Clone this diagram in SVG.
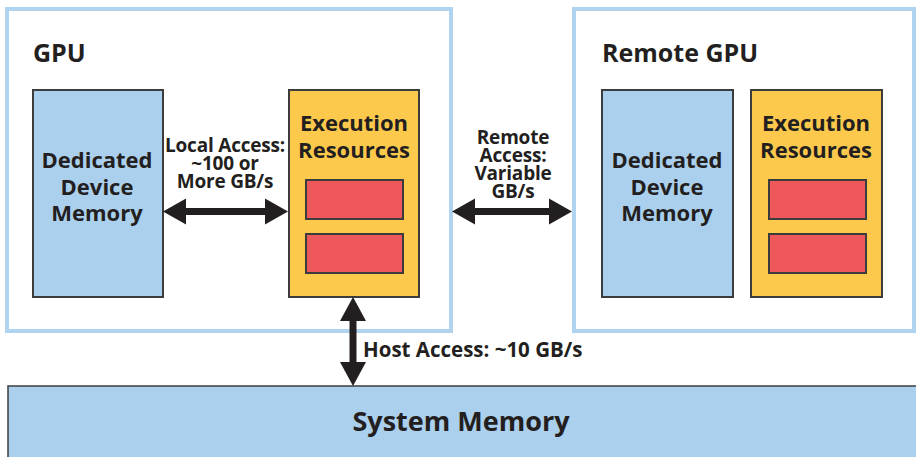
<svg xmlns="http://www.w3.org/2000/svg" width="916" height="457" viewBox="0 0 916 457">
  <defs>
    <style>
      .frame { fill: #ffffff; stroke: #b0d3f0; stroke-width: 4; }
      .mem { fill: #abd0ee; stroke: #3c3c3c; stroke-width: 2; }
      .exec { fill: #fdc94c; stroke: #3c3c3c; stroke-width: 2; }
      .unit { fill: #ef585b; stroke: #3c3c3c; stroke-width: 2; }
      .sys { fill: #abd0ee; stroke: #3c3c3c; stroke-width: 1.5; }
      text { font-family: "Open Sans", "Noto Sans", sans-serif; font-weight: bold; fill: #231f20; }
      .title { font-size: 25px; }
      .box { font-size: 22px; text-anchor: middle; }
      .lbl { font-size: 19px; text-anchor: middle; letter-spacing: -0.2px; }
      .host { font-size: 20.5px; }
      .big { font-size: 27px; text-anchor: middle; }
      .shaft { stroke: #231f20; stroke-width: 7; fill: none; }
      .head { fill: #231f20; }
    </style>
  </defs>

  <!-- Local GPU package -->
  <g id="gpu">
    <rect class="frame" x="7" y="9" width="444" height="322"/>
    <text class="title" x="33" y="62">GPU</text>
  </g>
  <g id="gpu-memory">
    <rect class="mem" x="33" y="90" width="130" height="207"/>
    <text class="box" x="97" y="168">Dedicated<tspan x="97" dy="27">Device</tspan><tspan x="97" dy="26">Memory</tspan></text>
  </g>
  <g id="gpu-exec">
    <rect class="exec" x="289" y="90" width="130" height="207"/>
    <text class="box" x="354" y="131">Execution<tspan x="354" dy="27">Resources</tspan></text>
    <rect class="unit" x="306" y="180" width="97" height="39"/>
    <rect class="unit" x="306" y="234" width="97" height="39"/>
  </g>

  <!-- Remote GPU package -->
  <g id="remote-gpu">
    <rect class="frame" x="574" y="9" width="340" height="322"/>
    <text class="title" x="602" y="62">Remote GPU</text>
  </g>
  <g id="remote-memory">
    <rect class="mem" x="602" y="90" width="131" height="207"/>
    <text class="box" x="667" y="168">Dedicated<tspan x="667" dy="27">Device</tspan><tspan x="667" dy="26">Memory</tspan></text>
  </g>
  <g id="remote-exec">
    <rect class="exec" x="751" y="90" width="131" height="207"/>
    <text class="box" x="816" y="131">Execution<tspan x="816" dy="27">Resources</tspan></text>
    <rect class="unit" x="769" y="180" width="97" height="39"/>
    <rect class="unit" x="769" y="234" width="97" height="39"/>
  </g>

  <!-- Host memory -->
  <g id="system-memory">
    <rect class="sys" x="8" y="386" width="912" height="80"/>
    <text class="big" x="461" y="431">System Memory</text>
  </g>

  <!-- Access paths -->
  <g id="connectors">
    <!-- local: memory <-> execution -->
    <line class="shaft" x1="180" y1="211.5" x2="272" y2="211.5"/>
    <polygon class="head" points="163,211.5 186,198.5 186,224.5"/>
    <polygon class="head" points="288,211.5 265,198.5 265,224.5"/>
    <text class="lbl" x="225" y="152">Local Access:<tspan x="225" dy="18">~100 or</tspan><tspan x="225" dy="18">More GB/s</tspan></text>

    <!-- remote: GPU <-> remote GPU -->
    <line class="shaft" x1="468" y1="211.5" x2="556" y2="211.5"/>
    <polygon class="head" points="452,211.5 475,198.5 475,224.5"/>
    <polygon class="head" points="572,211.5 549,198.5 549,224.5"/>
    <text class="lbl" x="513" y="144">Remote<tspan x="513" dy="18">Access:</tspan><tspan x="513" dy="18">Variable</tspan><tspan x="513" dy="18">GB/s</tspan></text>

    <!-- host: execution <-> system memory -->
    <line class="shaft" x1="353" y1="312" x2="353" y2="371"/>
    <polygon class="head" points="353,297 340,321 366,321"/>
    <polygon class="head" points="353,386 340,362 366,362"/>
    <text class="host" x="363" y="357">Host Access: ~10 GB/s</text>
  </g>
</svg>
